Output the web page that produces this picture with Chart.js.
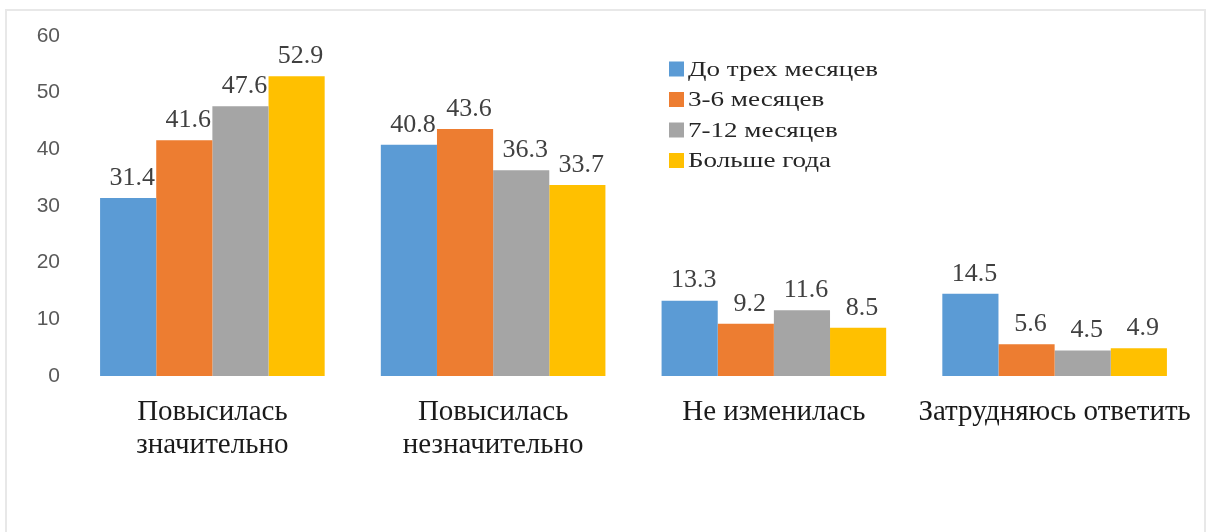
<!DOCTYPE html>
<html lang="ru">
<head>
<meta charset="utf-8">
<script src="https://cdn.jsdelivr.net/npm/chart.js@4/dist/chart.umd.min.js"></script>
<style>
  html, body { margin: 0; padding: 0; background: #ffffff; }
  #wrap { position: relative; width: 1209px; height: 532px; }
  canvas { display: block; }
</style>
</head>
<body>
<div id="wrap"><canvas id="chart" width="1209" height="532"></canvas></div>
<script>
// Categories (answer options) and series (length of period)
const categories = [
  ["Повысилась", "значительно"],
  ["Повысилась", "незначительно"],
  "Не изменилась",
  "Затрудняюсь ответить"
];
const seriesNames = ["До трех месяцев", "3-6 месяцев", "7-12 месяцев", "Больше года"];
const upToThreeMonths = [31.4, 40.8, 13.3, 14.5];
const threeToSixMonths = [41.6, 43.6, 9.2, 5.6];
const sevenToTwelveMonths = [47.6, 36.3, 11.6, 4.5];
const moreThanYear = [52.9, 33.7, 8.5, 4.9];
const yTicks = [0, 10, 20, 30, 40, 50, 60];

const colors = ["#5B9BD5", "#ED7D31", "#A5A5A5", "#FFC000"];
const seriesValues = [upToThreeMonths, threeToSixMonths, sevenToTwelveMonths, moreThanYear];

const SERIF = "'Liberation Serif', 'Times New Roman', serif";
const SANS = "'Liberation Sans', Arial, sans-serif";

// Thin frame at the top and left of the panel
const framePlugin = {
  id: 'frame',
  beforeDraw(chart) {
    const ctx = chart.ctx;
    ctx.save();
    ctx.strokeStyle = '#e8e8e8';
    ctx.lineWidth = 2;
    ctx.beginPath();
    ctx.moveTo(6, chart.height);
    ctx.lineTo(6, 10);
    ctx.lineTo(chart.width - 4, 10);
    ctx.lineTo(chart.width - 4, chart.height);
    ctx.stroke();
    ctx.restore();
  }
};

// Value labels above each bar
const valueLabels = {
  id: 'valueLabels',
  afterDatasetsDraw(chart) {
    const ctx = chart.ctx;
    ctx.save();
    ctx.font = "26px " + SERIF;
    ctx.fillStyle = '#404040';
    ctx.textAlign = 'center';
    ctx.textBaseline = 'bottom';
    chart.data.datasets.forEach((ds, di) => {
      const meta = chart.getDatasetMeta(di);
      meta.data.forEach((bar, i) => {
        ctx.fillText(ds.data[i].toFixed(1), bar.x + 4, bar.y - 7);
      });
    });
    ctx.restore();
  }
};

// Legend block inside the plot area (wide serif lettering)
const boxLegend = {
  id: 'boxLegend',
  afterDraw(chart) {
    const ctx = chart.ctx;
    const x0 = 669, y0 = 69, rowH = 30.5, box = 15, stretch = 1.23;
    ctx.save();
    ctx.font = "22px " + SERIF;
    ctx.textBaseline = 'middle';
    ctx.textAlign = 'left';
    chart.data.datasets.forEach((ds, i) => {
      const y = y0 + i * rowH;
      ctx.fillStyle = ds.backgroundColor;
      ctx.fillRect(x0, y - box / 2, box, box);
      ctx.save();
      ctx.translate(x0 + box + 4, y + 1);
      ctx.scale(stretch, 1);
      ctx.fillStyle = '#262626';
      ctx.fillText(ds.label, 0, 0);
      ctx.restore();
    });
    ctx.restore();
  }
};

new Chart(document.getElementById('chart'), {
  type: 'bar',
  data: {
    labels: categories,
    datasets: seriesNames.map((name, i) => ({
      label: name,
      data: seriesValues[i],
      backgroundColor: colors[i],
      borderWidth: 0,
      categoryPercentage: 0.8,
      barPercentage: 1.0
    }))
  },
  options: {
    responsive: false,
    animation: false,
    layout: { padding: { top: 36, right: 14, left: 4, bottom: 0 } },
    plugins: {
      legend: { display: false },
      tooltip: { enabled: false }
    },
    scales: {
      x: {
        grid: { display: false, drawTicks: false },
        border: { display: false },
        ticks: {
          color: '#1a1a1a',
          font: { family: SERIF, size: 29, lineHeight: 1.14 },
          padding: 20,
          maxRotation: 0,
          autoSkip: false
        },
        afterFit(scale) {
          scale.height = 156;
          scale.paddingLeft = 0;
          scale.paddingRight = 0;
        }
      },
      y: {
        min: 0,
        max: 60,
        grid: { display: false, drawTicks: false },
        border: { display: false },
        afterBuildTicks(scale) { scale.ticks = yTicks.map(v => ({ value: v })); },
        ticks: {
          color: '#595959',
          font: { family: SANS, size: 21 },
          padding: 12
        },
        afterFit(scale) { scale.width = 68; }
      }
    }
  },
  plugins: [framePlugin, valueLabels, boxLegend]
});
</script>
</body>
</html>
